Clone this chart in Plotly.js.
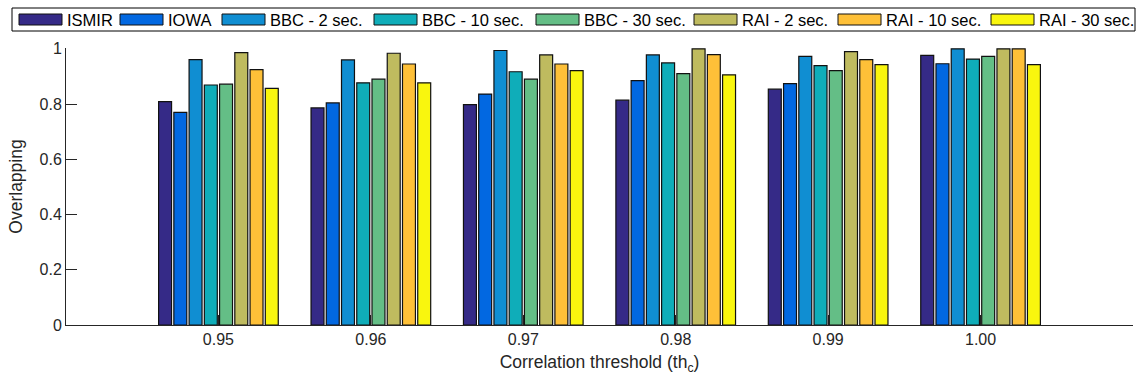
<!DOCTYPE html>
<html>
<head>
<meta charset="utf-8">
<script src="https://cdn.plot.ly/plotly-3.0.1.min.js"></script>
<style>html,body{margin:0;padding:0;background:#fff;}#chart{width:1137px;height:381px;}</style>
</head>
<body>
<div id="chart"></div>
<script>
const categories = ['0.95', '0.96', '0.97', '0.98', '0.99', '1.00'];
const seriesNames = ['ISMIR', 'IOWA', 'BBC - 2 sec.', 'BBC - 10 sec.', 'BBC - 30 sec.', 'RAI - 2 sec.', 'RAI - 10 sec.', 'RAI - 30 sec.'];
const ismir  = [0.809, 0.786, 0.798, 0.814, 0.854, 0.976];
const iowa   = [0.770, 0.804, 0.836, 0.885, 0.874, 0.946];
const bbc2   = [0.961, 0.960, 0.994, 0.978, 0.973, 1.000];
const bbc10  = [0.869, 0.877, 0.917, 0.949, 0.939, 0.963];
const bbc30  = [0.872, 0.890, 0.890, 0.910, 0.921, 0.973];
const rai2   = [0.986, 0.984, 0.978, 1.000, 0.990, 1.000];
const rai10  = [0.925, 0.945, 0.945, 0.979, 0.961, 1.000];
const rai30  = [0.857, 0.877, 0.921, 0.906, 0.943, 0.943];
const yTicks = [0, 0.2, 0.4, 0.6, 0.8, 1];
const yTickLabels = ['0', '0.2', '0.4', '0.6', '0.8', '1'];

const seriesValues = [ismir, iowa, bbc2, bbc10, bbc30, rai2, rai10, rai30];
const colors = ['#352a87', '#0268e1', '#108ed2', '#0fadb9', '#64be86', '#bfbb5f', '#fec038', '#f9f60e'];

const FONT = 'Liberation Sans, Arial, Helvetica, sans-serif';
const W = 1137, H = 381;
const M = {l: 66, r: 4, t: 48, b: 56};
const plotW = W - M.l - M.r, plotH = H - M.t - M.b;
const px2x = p => (p - M.l) / plotW;
const px2y = p => (H - M.b - p) / plotH;

const traces = seriesNames.map((name, i) => ({
  type: 'bar',
  name: name,
  x: categories,
  y: seriesValues[i],
  marker: {color: colors[i], line: {color: '#111', width: 1.2}},
  showlegend: false,
  hoverinfo: 'x+y+name'
}));

// manual legend (box with wide swatches, like the original)
const legendSwatchX = [19, 120, 222, 374, 536, 694, 838, 991];
const swatchW = 43;
const shapes = [{
  type: 'rect', xref: 'paper', yref: 'paper',
  x0: px2x(12), x1: px2x(1135), y0: px2y(31), y1: px2y(8),
  line: {color: '#000', width: 1}, fillcolor: 'rgba(255,255,255,0)'
}];
const annotations = [];
seriesNames.forEach((name, i) => {
  const sx = legendSwatchX[i];
  shapes.push({
    type: 'rect', xref: 'paper', yref: 'paper',
    x0: px2x(sx), x1: px2x(sx + swatchW), y0: px2y(25), y1: px2y(14),
    line: {color: '#111', width: 1}, fillcolor: colors[i]
  });
  annotations.push({
    xref: 'paper', yref: 'paper', x: px2x(sx + swatchW + 3), y: px2y(19.5),
    xanchor: 'left', yanchor: 'middle', showarrow: false,
    text: name, font: {family: FONT, size: 16.5, color: '#000'}
  });
});

const layout = {
  width: W, height: H,
  margin: M,
  paper_bgcolor: '#fff', plot_bgcolor: '#fff',
  font: {family: FONT, size: 16, color: '#262626'},
  barmode: 'group',
  bargap: 0.2,
  bargroupgap: 0.15,
  xaxis: {
    type: 'category',
    range: [-1, 6],
    showgrid: false, zeroline: false,
    showline: true, linecolor: '#262626', linewidth: 1,
    ticks: 'inside', ticklen: 10, tickcolor: '#262626',
    tickfont: {family: FONT, size: 16, color: '#262626'},
    layer: 'below traces',
    title: {text: 'Correlation threshold (th<sub>c</sub>)', font: {family: FONT, size: 17.5, color: '#262626'}, standoff: 8}
  },
  yaxis: {
    range: [0, 1.003],
    tickvals: yTicks, ticktext: yTickLabels,
    showgrid: false, zeroline: false,
    showline: true, linecolor: '#262626', linewidth: 1,
    ticks: 'inside', ticklen: 11, tickcolor: '#262626',
    tickfont: {family: FONT, size: 16, color: '#262626'},
    layer: 'below traces',
    title: {text: 'Overlapping', font: {family: FONT, size: 17.5, color: '#262626'}, standoff: 12}
  },
  shapes: shapes,
  annotations: annotations,
  showlegend: false
};

Plotly.newPlot('chart', traces, layout, {displayModeBar: false, staticPlot: true});
</script>
</body>
</html>
